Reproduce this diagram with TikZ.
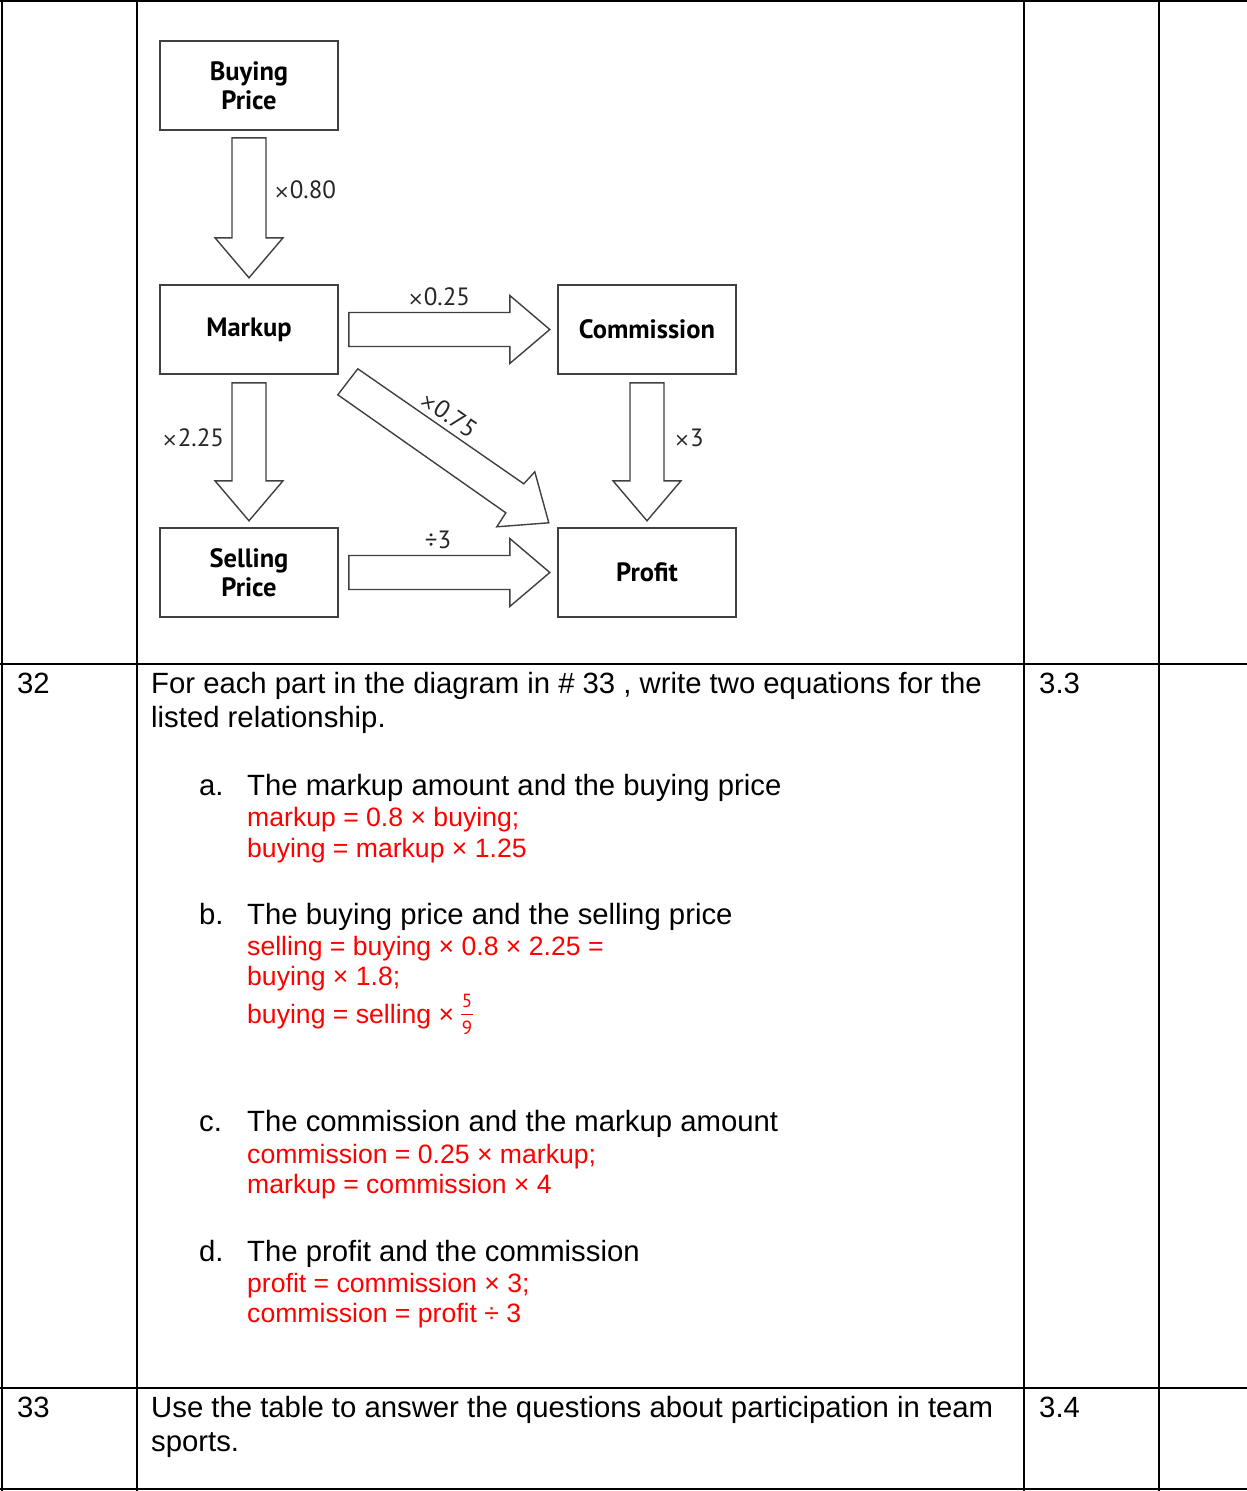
\documentclass[tikz,border=0pt]{standalone}
\usepackage{fontspec}
\setmainfont{Liberation Sans}
\newfontfamily\dfont{PT Sans}
\newfontfamily\xfont{DejaVu Sans}
\newcommand{\tms}{{\xfont\fontsize{19}{19}\selectfont ×}}
\usetikzlibrary{calc}
\newcommand{\fatarrow}[3]{%
  \begin{scope}[shift={(#1)}, rotate=#2]
    \draw[fat] (0,-17) -- ({#3-40},-17) -- ({#3-40},-34) -- (#3,0) -- ({#3-40},34) -- ({#3-40},17) -- (0,17) -- cycle;
  \end{scope}}
\begin{document}
\begin{tikzpicture}[x=1pt,y=-1pt,
  grid/.style={line width=2pt, black},
  box/.style={draw=black!75, line width=1.6pt, minimum width=178pt, minimum height=89pt, inner sep=0pt,
    font=\dfont\bfseries\fontsize{26.5}{29}\selectfont, align=center},
  fat/.style={draw=black!75, line width=1.4pt, fill=white, line join=miter},
  lbl/.style={font=\dfont\fontsize{25}{27}\selectfont, text=black!85, inner sep=0pt},
  body/.style={anchor=base west, inner sep=0pt, font=\fontsize{29.3}{34}\selectfont},
  ans/.style={anchor=base west, inner sep=0pt, text=red, font=\fontsize{26.6}{30.6}\selectfont},
  fracd/.style={inner sep=0pt, text=red, font=\dfont\fontsize{19}{19}\selectfont}]

\useasboundingbox (0,0) rectangle (1247,1491);

% table rules
\draw[grid] (0,1) -- (1247,1);
\draw[grid] (0,664) -- (1247,664);
\draw[grid] (0,1388) -- (1247,1388);
\draw[grid] (0,1489) -- (1247,1489);
\draw[grid] (2,0) -- (2,1491);
\draw[grid] (137,0) -- (137,1491);
\draw[grid] (1024,0) -- (1024,1491);
\draw[grid] (1159,0) -- (1159,1491);

% diagram boxes
\node[box] (buy)  at (249,85.5)  {Buying\\Price};
\node[box] (mark) at (249,329.5) {Markup};
\node[box] (comm) at (647,329.5) {Commission};
\node[box] (sell) at (249,572.5) {Selling\\Price};
\node[box] (prof) at (647,572.5) {Profit};

% arrow start points
\coordinate (s1) at ([yshift=-7pt]buy.south);
\coordinate (s2) at ([xshift=10pt]mark.east);
\coordinate (s3) at ([yshift=-8pt]mark.south);
\coordinate (s4) at ([yshift=-8pt]comm.south);
\coordinate (s5) at ([xshift=10pt]sell.east);

\fatarrow{s1}{-90}{140}
\fatarrow{s2}{0}{201}
\fatarrow{s3}{-90}{138}
\fatarrow{s4}{-90}{138}
\fatarrow{s5}{0}{201}

% diagonal arrow markup -> profit
\begin{scope}[shift={(mark.south east)}]
  \draw[fat] (19,-6) -- (185,109) -- (196,97) -- (210,148) -- (158,152) -- (167,138) -- (-1,20) -- cycle;
\end{scope}

% arrow labels
\node[lbl] (l1) at (305,190) {\tms0.80};
\node[lbl] (l2) at (439,297) {\tms0.25};
\node[lbl] (l3) at (193,438) {\tms2.25};
\node[lbl] (l4) at (689,438) {\tms3};
\node[lbl] (l5) at (438,540) {÷3};
\node[lbl, rotate=-34.7] (l6) at (449,414) {\tms0.75};

% row 32
\node[body] (n32) at (17,693) {32};
\node[body] (q32a) at (151,693) {For each part in the diagram in \# 33 , write two equations for the};
\node[body] (q32b) at (151,727) {listed relationship.};
\node[body] (r32) at (1039,693) {3.3};

\node[body] (la) at (199,795) {a.};
\node[body] (ta) at (247,795) {The markup amount and the buying price};
\node[ans] (a1) at (247,826) {markup = 0.8 × buying;};
\node[ans] (a2) at (247,857) {buying = markup × 1.25};

\node[body] (lb) at (199,924) {b.};
\node[body] (tb) at (247,924) {The buying price and the selling price};
\node[ans] (b1) at (247,955) {selling = buying × 0.8 × 2.25 =};
\node[ans] (b2) at (247,985) {buying × 1.8;};
\node[ans] (b3) at (247,1023) {buying = selling ×};
\node[fracd] (f5) at (467,1001) {5};
\node[fracd] (f9) at (467,1028) {9};
\draw[red, line width=1.6pt] ([xshift=-6pt]$(f5)!0.5!(f9)$) -- ([xshift=6pt]$(f5)!0.5!(f9)$);

\node[body] (lc) at (199,1131) {c.};
\node[body] (tc) at (247,1131) {The commission and the markup amount};
\node[ans] (c1) at (247,1163) {commission = 0.25 × markup;};
\node[ans] (c2) at (247,1193) {markup = commission × 4};

\node[body] (ld) at (199,1261) {d.};
\node[body] (td) at (247,1261) {The profit and the commission};
\node[ans] (d1) at (247,1292) {profit = commission × 3;};
\node[ans] (d2) at (247,1322) {commission = profit ÷ 3};

% row 33
\node[body] (n33) at (17,1417) {33};
\node[body] (q33a) at (151,1417) {Use the table to answer the questions about participation in team};
\node[body] (q33b) at (151,1451) {sports.};
\node[body] (r33) at (1039,1417) {3.4};
\end{tikzpicture}
\end{document}
